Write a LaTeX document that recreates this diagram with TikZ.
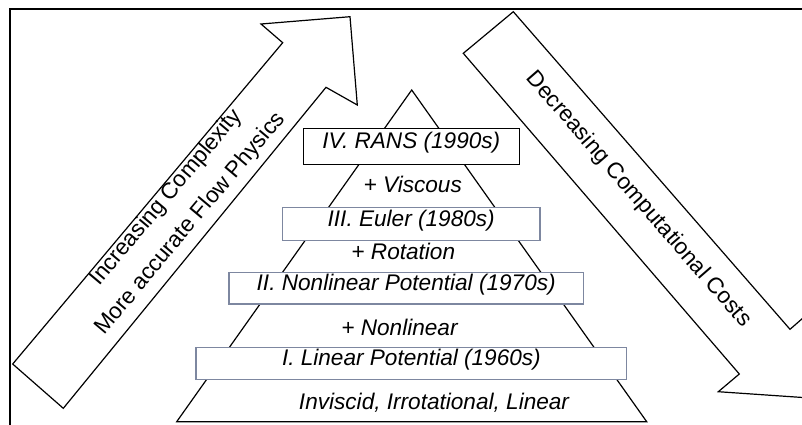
\documentclass[tikz,border=0pt]{standalone}
\usepackage{fontspec}
\setmainfont{Liberation Sans}
\definecolor{boxgray}{RGB}{125,135,160}
\begin{document}
\begin{tikzpicture}[x=1pt,y=-1pt,
  txt/.style={font=\fontsize{22.6}{27}\selectfont, text height=0.71em, text depth=0.22em, inner sep=0pt},
  ital/.style={txt, font=\fontsize{22.6}{27}\selectfont\itshape},
  level/.style={ital, draw=boxgray, line width=1.3pt, fill=white, anchor=center},
  toplevel/.style={level, draw=black},
  shape line/.style={draw=black, line width=1.2pt, line join=miter, fill=white}]
\useasboundingbox (0,0) rectangle (802,424);
\clip (0,0) rectangle (802,424);
% frame
\draw[line width=2.6pt] (10,9) rectangle (830,450);
% left arrow
\draw[shape line] (12.7,364) -- (282.7,42.7) -- (261,24) -- (350,16.7) -- (357.3,105) -- (326,87.3) -- (63.3,408.3) -- cycle;
% right arrow
\draw[shape line] (513.3,11.7) -- (790,329.3) -- (811.9,310.2) -- (805.8,397.7) -- (718.3,391.7) -- (739.3,374) -- (463.3,53.3) -- cycle;
% pyramid
\coordinate (apex) at (411.7,90);
\coordinate (bl) at (176.7,421.7);
\coordinate (br) at (646.7,421.7);
\draw[line width=1.2pt, line join=miter] (apex) -- (br) -- (bl) -- cycle;
% levels
\node[toplevel, minimum width=216pt, minimum height=36pt] (l4) at (411.3,146.3) {IV. RANS (1990s)};
\node[level, minimum width=257.7pt, minimum height=33pt] (l3) at (411.2,223.8) {III. Euler (1980s)};
\node[level, minimum width=354.3pt, minimum height=31.7pt] (l2) at (406.2,288.2) {II. Nonlinear Potential (1970s)};
\node[level, minimum width=430.7pt, minimum height=31.6pt] (l1) at (411.4,363.5) {I. Linear Potential (1960s)};
% increments
\node[ital, anchor=base] (viscous) at (412.7,192.3) {+ Viscous};
\node[ital, anchor=base] (rotation) at (403.3,259) {+ Rotation};
\node[ital, anchor=base] (nonlinear) at (399.5,335) {+ Nonlinear};
\node[ital, anchor=base] (base) at (434,409.3) {Inviscid, Irrotational, Linear};
% arrow texts
\node[txt, rotate=50] (inc) at (169,200) {Increasing Complexity};
\node[txt, rotate=50] (acc) at (193,226) {More accurate Flow Physics};
\node[txt, rotate=-49] (dec) at (636,202) {Decreasing Computational Costs};
\end{tikzpicture}
\end{document}
